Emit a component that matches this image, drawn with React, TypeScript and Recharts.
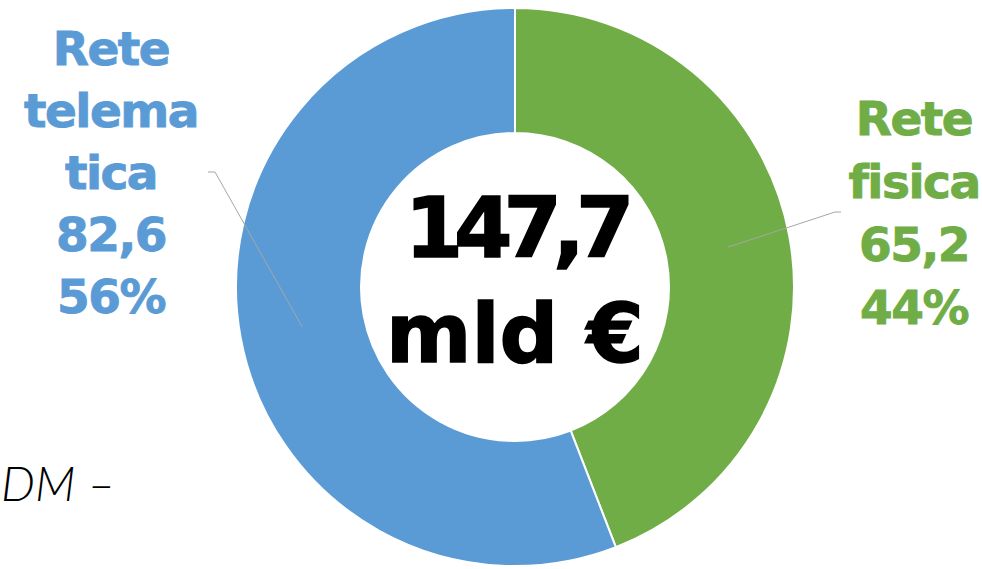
import React from 'react';
import { PieChart, Pie, Cell, Customized } from 'recharts';

const categories = ['Rete fisica', 'Rete telematica'];
const labelLines = [['Rete', 'fisica'], ['Rete', 'telema', 'tica']];
const values = [65.2, 82.6];
const valueLabels = ['65,2', '82,6'];
const percentLabels = ['44%', '56%'];
const colors = ['#70AD47', '#5B9BD5'];
const totalLabel = ['147,7', 'mld €'];
const footnote = 'DM –';

const data = categories.map((name, i) => ({ name, value: values[i] }));

const RAD = Math.PI / 180;
const LABEL_FONT = '"DejaVu Sans", sans-serif';

const renderLabel = (props: any) => {
  const { cx, cy, midAngle, innerRadius, outerRadius, index } = props;
  const r = (innerRadius + outerRadius) / 2;
  const sx = cx + r * Math.cos(-midAngle * RAD);
  const sy = cy + r * Math.sin(-midAngle * RAD);
  const right = index === 0;
  const ex = right ? cx + 320 : cx - 300;
  const ey = right ? cy - 75 : cy - 115;
  const hx = right ? ex + 6 : ex - 7;
  const tx = right ? cx + 399 : cx - 404;
  const ty0 = right ? cy - 152 : cy - 222;
  const step = right ? 63 : 62;
  const lines = [...labelLines[index], valueLabels[index], percentLabels[index]];
  return (
    <g key={`lbl-${index}`}>
      <polyline
        points={`${sx},${sy} ${ex},${ey} ${hx},${ey}`}
        fill="none"
        stroke="#A6A6A6"
        strokeWidth={1}
      />
      {lines.map((t, k) => (
        <text
          key={k}
          x={tx}
          y={ty0 + k * step}
          textAnchor="middle"
          fill={colors[index]}
          stroke={colors[index]}
          strokeWidth={0.9}
          fontFamily={LABEL_FONT}
          fontWeight="bold"
          fontSize={47}
          letterSpacing={-1.5}
        >
          {t}
        </text>
      ))}
    </g>
  );
};

const CenterText = () => (
  <g>
    <text x={515} y={257} textAnchor="middle" fill="#000" stroke="#000" strokeWidth={1.5} fontFamily={LABEL_FONT} fontWeight="bold" fontSize={84} letterSpacing={-9}>
      {totalLabel[0]}
    </text>
    <text x={515} y={362} textAnchor="middle" fill="#000" stroke="#000" strokeWidth={1.5} fontFamily={LABEL_FONT} fontWeight="bold" fontSize={82}>
      {totalLabel[1]}
    </text>
    <text x={1} y={501} textAnchor="start" fill="#000" fontFamily="Lato, sans-serif" fontStyle="italic" fontWeight={300} fontSize={48}>
      {footnote}
    </text>
  </g>
);

export default function App() {
  return (
    <div style={{ position: 'absolute', left: 0, top: 0, width: 982, height: 569, background: '#fff' }}>
      <PieChart width={982} height={569} margin={{ top: 0, right: 0, bottom: 0, left: 0 }}>
        <Pie
          data={data}
          dataKey="value"
          nameKey="name"
          cx={515}
          cy={287}
          innerRadius={154}
          outerRadius={279}
          startAngle={90}
          endAngle={-270}
          stroke="#fff"
          strokeWidth={2}
          label={renderLabel}
          labelLine={false}
          isAnimationActive={false}
        >
          {data.map((d, i) => (
            <Cell key={d.name} fill={colors[i]} />
          ))}
        </Pie>
        <Customized component={CenterText} />
      </PieChart>
    </div>
  );
}
